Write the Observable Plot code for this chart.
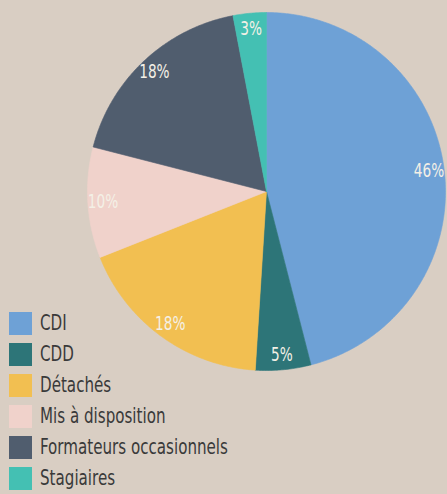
<!DOCTYPE html>
<html>
<head>
<meta charset="utf-8">
<script src="https://cdn.jsdelivr.net/npm/d3@7"></script>
<script src="https://cdn.jsdelivr.net/npm/@observablehq/plot@0.6"></script>
<style>
  html, body { margin: 0; padding: 0; background: #d9cec3; }
  #wrap { position: relative; width: 447px; height: 494px; overflow: hidden; }
  #legend { position: absolute; left: 9px; top: 308px; font-family: "DejaVu Sans Condensed", "DejaVu Sans", sans-serif; color: #3a3a3a; }
  .row { display: flex; align-items: center; height: 31px; }
  .sw { width: 23px; height: 23px; margin-right: 8px; flex: none; }
  .lab { font-size: 21px; line-height: 23px; white-space: nowrap; transform: scaleX(0.8); transform-origin: left center; }
</style>
</head>
<body>
<div id="wrap"><div id="chart"></div><div id="legend"></div></div>
<script>
const categories = ["CDI", "CDD", "Détachés", "Mis à disposition", "Formateurs occasionnels", "Stagiaires"];
const values = [46, 5, 18, 10, 18, 3];
const labels = ["46%", "5%", "18%", "10%", "18%", "3%"];
const colors = ["#6ea1d6", "#2d7578", "#f2bf51", "#f0d2cb", "#505d6e", "#44c0b3"];

const W = 447, H = 494, cx = 266, cy = 191, R = 179;
const total = d3.sum(values);

const pts = [];
const labelPts = [];
let acc = 0;
categories.forEach((c, i) => {
  const a0 = acc / total * 2 * Math.PI;
  acc += values[i];
  const a1 = acc / total * 2 * Math.PI;
  pts.push({cat: c, x: 0, y: 0});
  const n = Math.max(2, Math.ceil((a1 - a0) / (Math.PI / 360)));
  for (let k = 0; k <= n; k++) {
    const a = a0 + (a1 - a0) * k / n;
    pts.push({cat: c, x: Math.sin(a), y: -Math.cos(a)});
  }
  pts.push({cat: c, x: 0, y: 0});
  const am = (a0 + a1) / 2;
  const rl = 0.915;
  labelPts.push({cat: c, label: labels[i], x: rl * Math.sin(am), y: -rl * Math.cos(am)});
});

const chart = Plot.plot({
  width: W, height: H,
  margin: 0,
  style: {background: "transparent"},
  x: {domain: [-cx / R, (W - cx) / R], axis: null},
  y: {domain: [(H - cy) / R, -cy / R], axis: null},
  color: {domain: categories, range: colors},
  marks: [
    Plot.line(pts, {x: "x", y: "y", z: "cat", fill: "cat", stroke: "cat", strokeWidth: 0.6, curve: "linear"}),
    Plot.text(labelPts, {x: "x", y: "y", text: "label", fill: "#f4f0e6", fontSize: 19,
      fontFamily: "'DejaVu Sans Condensed', 'DejaVu Sans', sans-serif"})
  ]
});
chart.querySelectorAll("text").forEach(t => {
  const tr = t.getAttribute("transform") || "";
  t.setAttribute("transform", tr + " scale(0.8,1)");
});
document.getElementById("chart").appendChild(chart);

const leg = document.getElementById("legend");
categories.forEach((c, i) => {
  const row = document.createElement("div");
  row.className = "row";
  const sw = document.createElement("div");
  sw.className = "sw";
  sw.style.background = colors[i];
  const lab = document.createElement("div");
  lab.className = "lab";
  lab.textContent = c;
  row.appendChild(sw); row.appendChild(lab);
  leg.appendChild(row);
});
</script>
</body>
</html>
